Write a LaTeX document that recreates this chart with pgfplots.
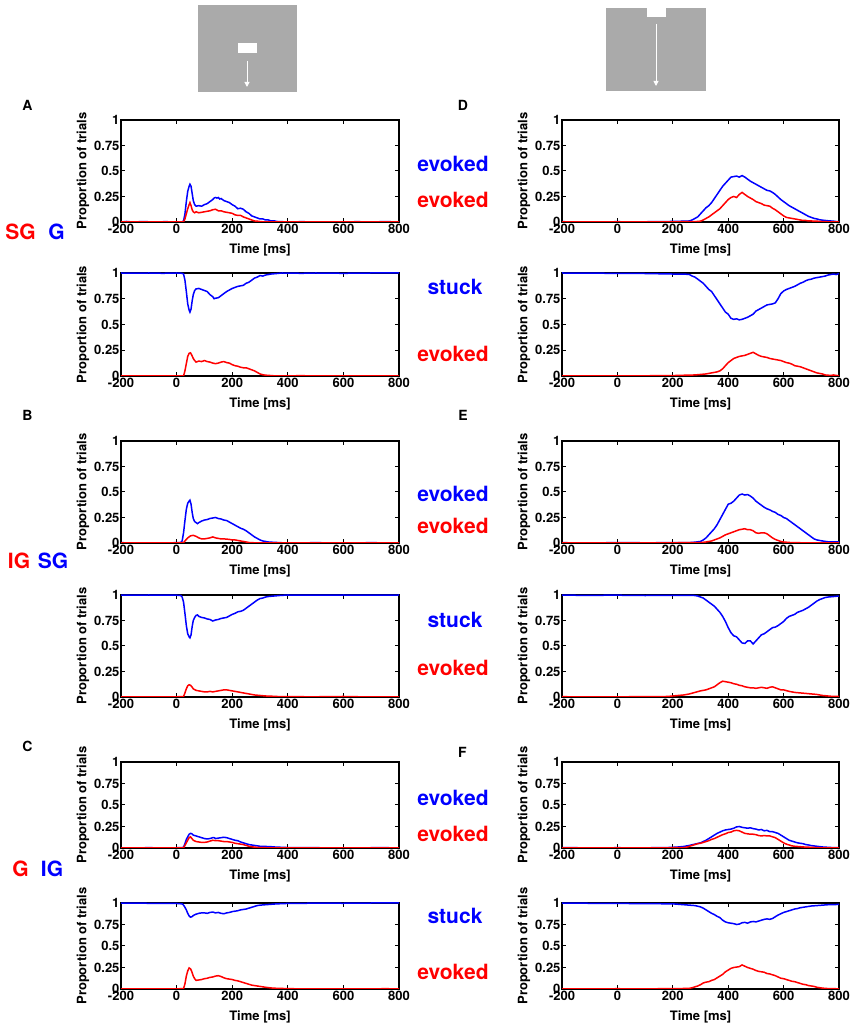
\documentclass[border=0pt]{standalone}
\usepackage{pgfplots}
\pgfplotsset{compat=1.18}
\usepackage{fontspec}
\setmainfont{TeX Gyre Heros}
\usetikzlibrary{arrows.meta}
\newcommand\tf{\bfseries\fontsize{13}{15}\selectfont}
\newcommand\bigf{\bfseries\fontsize{21}{24}\selectfont}
\definecolor{icon}{RGB}{170,170,170}
\pgfplotsset{
 panel/.style={scale only axis, anchor=south west,
  xmin=-200,xmax=800,ymin=0,ymax=1,
  xtick={-200,0,200,400,600,800}, xticklabels={-200,0,200,400,600,800},
  ytick={0,0.25,0.5,0.75,1}, yticklabels={0,0.25,0.5,0.75,1},
  tick align=inside, xtick pos=both, ytick pos=both, major tick length=4pt,
  axis line style={line width=1.3pt}, every tick/.style={black,line width=1pt},
  tick label style={font=\tf},
  xticklabel style={yshift=1.5pt}, yticklabel style={xshift=2pt},
  label style={font=\tf},
  xlabel={Time [ms]}, ylabel={Proportion of trials},
  xlabel style={at={(axis description cs:0.5,0)}, anchor=center, yshift=-28pt},
  ylabel style={at={(axis description cs:-0.137,0.5)}, anchor=center},
 },
 L/.style={panel, width=278pt, at={(121pt,#1)}},
 R/.style={panel, width=277pt, at={(562pt,#1)}},
 bl/.style={color={rgb,255:red,0;green,0;blue,255}, line width=1.5pt},
 rd/.style={color={rgb,255:red,255;green,0;blue,0}, line width=1.5pt},
}
\begin{document}
\begin{tikzpicture}
\useasboundingbox (0pt,0pt) rectangle (856pt,1027pt);
% icons
\fill[icon] (198pt,935pt) rectangle (297pt,1022pt);
\fill[white] (238pt,974pt) rectangle (257pt,984pt);
\draw[white,line width=1pt,-{Triangle[width=5pt,length=5pt]}] (247pt,966pt) -- (247pt,940pt);
\fill[icon] (606pt,936pt) rectangle (706pt,1019pt);
\fill[white] (647pt,1010pt) rectangle (666pt,1020pt);
\draw[white,line width=1pt,-{Triangle[width=5pt,length=5pt]}] (656pt,1003pt) -- (656pt,941pt);
% letters
\node[font=\bfseries\fontsize{14}{16}\selectfont] at (27.5pt,922pt) {A};
\node[font=\bfseries\fontsize{14}{16}\selectfont] at (27.5pt,612pt) {B};
\node[font=\bfseries\fontsize{14}{16}\selectfont] at (27.5pt,281pt) {C};
\node[font=\bfseries\fontsize{14}{16}\selectfont] at (463pt,922pt) {D};
\node[font=\bfseries\fontsize{14}{16}\selectfont] at (463pt,612pt) {E};
\node[font=\bfseries\fontsize{14}{16}\selectfont] at (462.5pt,275pt) {F};
% row labels
\node[font=\bigf, text=red] at (20.5pt,795pt) {SG};
\node[font=\bigf, text=blue] at (56.5pt,795pt) {G};
\node[font=\bigf, text=red] at (19pt,466pt) {IG};
\node[font=\bigf, text=blue] at (53pt,466pt) {SG};
\node[font=\bigf, text=red] at (20.5pt,158pt) {G};
\node[font=\bigf, text=blue] at (52pt,158pt) {IG};
% middle labels
\node[font=\bigf, text=blue] at (453pt,863pt) {evoked};
\node[font=\bigf, text=red] at (453pt,827pt) {evoked};
\node[font=\bigf, text=blue] at (455pt,740pt) {stuck};
\node[font=\bigf, text=red] at (453pt,673pt) {evoked};
\node[font=\bigf, text=blue] at (453pt,533pt) {evoked};
\node[font=\bigf, text=red] at (453pt,501pt) {evoked};
\node[font=\bigf, text=blue] at (455pt,407pt) {stuck};
\node[font=\bigf, text=red] at (453pt,359pt) {evoked};
\node[font=\bigf, text=blue] at (453pt,229pt) {evoked};
\node[font=\bigf, text=red] at (453pt,193pt) {evoked};
\node[font=\bigf, text=blue] at (455pt,111pt) {stuck};
\node[font=\bigf, text=red] at (453pt,55pt) {evoked};

% ---------------- A top
\begin{axis}[L=805pt, height=102pt]
\addplot[bl] coordinates {(-200,0) (-180,0.005) (-160,0) (-120,0.004) (-80,0) (-40,0.003) (0,0) (20,0.002) (25,0.01) (30,0.08) (35,0.2) (40,0.3) (45,0.35) (48,0.37) (52,0.35) (56,0.28) (60,0.21) (65,0.17) (70,0.155) (80,0.16) (90,0.155) (100,0.17) (110,0.18) (120,0.2) (130,0.22) (135,0.235) (140,0.24) (145,0.235) (150,0.24) (155,0.225) (160,0.23) (170,0.21) (180,0.2) (190,0.19) (200,0.17) (210,0.155) (220,0.13) (230,0.135) (240,0.125) (250,0.1) (260,0.085) (270,0.06) (280,0.05) (290,0.04) (300,0.03) (310,0.03) (320,0.02) (330,0.02) (340,0.01) (350,0.012) (360,0.005) (380,0.003) (400,0) (450,0.003) (500,0) (550,0.002) (600,0) (650,0.003) (700,0) (750,0.004) (800,0)};
\addplot[rd] coordinates {(-200,0) (-100,0.002) (0,0) (25,0) (30,0.03) (35,0.08) (40,0.13) (45,0.17) (48,0.19) (52,0.16) (56,0.12) (60,0.1) (65,0.09) (70,0.1) (80,0.09) (90,0.095) (100,0.1) (110,0.105) (120,0.11) (130,0.12) (140,0.125) (150,0.11) (160,0.11) (170,0.1) (180,0.095) (190,0.09) (200,0.085) (210,0.07) (220,0.065) (230,0.065) (240,0.05) (250,0.04) (260,0.03) (270,0.02) (280,0.01) (290,0.008) (300,0.004) (320,0) (400,0.002) (500,0) (600,0.001) (700,0) (800,0)};
\end{axis}
% ---------------- A bottom
\begin{axis}[L=651pt, height=103pt]
\addplot[bl] coordinates {(-200,1) (-150,0.998) (-100,1) (-50,0.997) (0,1) (20,0.997) (25,0.99) (30,0.93) (35,0.82) (40,0.7) (45,0.64) (48,0.62) (52,0.65) (56,0.73) (60,0.79) (65,0.83) (70,0.845) (80,0.85) (90,0.84) (100,0.83) (110,0.82) (120,0.79) (130,0.77) (135,0.75) (140,0.755) (150,0.76) (160,0.78) (170,0.8) (180,0.82) (190,0.835) (200,0.85) (210,0.86) (220,0.87) (230,0.875) (240,0.88) (250,0.9) (260,0.91) (270,0.93) (280,0.95) (290,0.96) (300,0.975) (310,0.97) (320,0.98) (330,0.985) (340,0.99) (360,0.995) (380,1) (450,0.997) (500,1) (600,0.997) (700,1) (800,1)};
\addplot[rd] coordinates {(-200,0) (-100,0.002) (0,0) (25,0) (30,0.05) (35,0.12) (40,0.19) (45,0.22) (50,0.225) (55,0.2) (60,0.17) (65,0.15) (70,0.135) (80,0.145) (90,0.14) (100,0.15) (110,0.14) (120,0.135) (130,0.125) (140,0.12) (150,0.125) (160,0.135) (170,0.14) (180,0.13) (190,0.125) (200,0.11) (210,0.1) (220,0.095) (230,0.085) (240,0.08) (250,0.08) (260,0.07) (270,0.06) (280,0.05) (290,0.035) (300,0.02) (310,0.012) (320,0.008) (340,0.004) (360,0) (450,0.003) (500,0) (600,0.002) (700,0) (800,0)};
\end{axis}
% ---------------- D top
\begin{axis}[R=805pt, height=102pt]
\addplot[bl] coordinates {(-200,0.003) (-150,0) (-100,0.002) (-50,0) (0,0.003) (50,0) (100,0.002) (150,0.004) (200,0.005) (240,0.008) (260,0.01) (270,0.02) (280,0.035) (290,0.05) (300,0.08) (310,0.11) (320,0.14) (330,0.16) (340,0.19) (350,0.23) (360,0.27) (370,0.31) (380,0.35) (390,0.38) (400,0.41) (410,0.44) (420,0.445) (430,0.45) (440,0.44) (450,0.455) (460,0.44) (470,0.42) (480,0.4) (490,0.385) (500,0.37) (510,0.355) (520,0.34) (530,0.325) (540,0.31) (550,0.305) (560,0.29) (570,0.27) (580,0.245) (590,0.22) (600,0.2) (610,0.18) (620,0.16) (630,0.145) (640,0.13) (650,0.115) (660,0.1) (670,0.085) (680,0.07) (690,0.055) (700,0.045) (710,0.035) (720,0.03) (730,0.022) (740,0.018) (750,0.015) (760,0.012) (770,0.01) (780,0.008) (790,0.004) (800,0.002)};
\addplot[rd] coordinates {(-200,0) (0,0.001) (100,0) (200,0.002) (280,0.003) (300,0.008) (310,0.02) (320,0.035) (330,0.05) (340,0.07) (350,0.09) (360,0.11) (370,0.13) (380,0.16) (390,0.19) (400,0.22) (410,0.24) (420,0.25) (430,0.24) (440,0.27) (450,0.29) (460,0.27) (470,0.25) (480,0.235) (490,0.22) (500,0.2) (510,0.19) (520,0.18) (530,0.165) (540,0.16) (550,0.155) (560,0.135) (570,0.12) (580,0.1) (590,0.08) (600,0.06) (610,0.045) (620,0.04) (630,0.035) (640,0.03) (650,0.025) (660,0.02) (670,0.015) (680,0.015) (690,0.01) (700,0.01) (720,0.008) (740,0.004) (760,0.002) (780,0) (800,0)};
\end{axis}
% ---------------- D bottom
\begin{axis}[R=651pt, height=103pt]
\addplot[bl] coordinates {(-200,1) (-100,0.998) (0,0.997) (100,0.995) (200,0.99) (240,0.99) (260,0.985) (270,0.97) (280,0.96) (290,0.94) (300,0.92) (310,0.9) (320,0.87) (330,0.84) (340,0.82) (350,0.78) (360,0.74) (370,0.7) (380,0.66) (390,0.62) (400,0.6) (410,0.56) (420,0.55) (430,0.555) (440,0.545) (450,0.55) (460,0.56) (470,0.57) (480,0.585) (490,0.6) (500,0.63) (510,0.645) (520,0.66) (530,0.675) (540,0.69) (550,0.695) (560,0.7) (570,0.71) (580,0.75) (590,0.8) (600,0.825) (610,0.84) (620,0.85) (630,0.86) (640,0.87) (650,0.885) (660,0.9) (670,0.91) (680,0.925) (690,0.935) (700,0.94) (710,0.95) (720,0.955) (730,0.96) (740,0.965) (750,0.97) (760,0.98) (770,0.985) (780,0.99) (790,0.985) (800,0.995)};
\addplot[rd] coordinates {(-200,0) (-100,0.002) (0,0) (100,0.002) (200,0.004) (250,0.008) (280,0.01) (300,0.015) (320,0.02) (340,0.03) (360,0.04) (370,0.05) (380,0.07) (390,0.1) (400,0.13) (410,0.15) (420,0.17) (430,0.18) (440,0.19) (450,0.195) (460,0.2) (470,0.21) (480,0.22) (490,0.23) (500,0.215) (510,0.2) (520,0.19) (530,0.185) (540,0.18) (550,0.17) (560,0.165) (570,0.16) (580,0.155) (590,0.15) (600,0.14) (610,0.13) (620,0.125) (630,0.115) (640,0.1) (650,0.095) (660,0.09) (670,0.08) (680,0.07) (690,0.06) (700,0.05) (710,0.04) (720,0.03) (730,0.025) (740,0.02) (750,0.01) (760,0.008) (770,0.005) (780,0.01) (790,0.005) (800,0.003)};
\end{axis}
% ---------------- B top
\begin{axis}[L=484pt, height=102pt]
\addplot[bl] coordinates {(-200,0.003) (-150,0) (-100,0.002) (-50,0) (0,0.003) (15,0.005) (20,0.02) (25,0.1) (30,0.22) (35,0.33) (40,0.39) (45,0.41) (48,0.42) (52,0.38) (56,0.3) (60,0.24) (65,0.21) (70,0.2) (75,0.19) (80,0.2) (90,0.215) (100,0.225) (110,0.23) (120,0.24) (130,0.245) (140,0.25) (150,0.24) (160,0.235) (170,0.225) (180,0.22) (190,0.205) (200,0.19) (210,0.175) (220,0.16) (230,0.145) (240,0.135) (250,0.12) (260,0.1) (270,0.08) (280,0.06) (290,0.045) (300,0.03) (310,0.02) (320,0.015) (330,0.01) (340,0.008) (360,0.005) (380,0.002) (400,0) (500,0.003) (600,0) (700,0.003) (800,0)};
\addplot[rd] coordinates {(-200,0) (0,0.002) (25,0.003) (30,0.02) (40,0.05) (50,0.07) (60,0.075) (70,0.065) (80,0.05) (90,0.04) (100,0.04) (110,0.045) (120,0.05) (130,0.06) (140,0.05) (150,0.045) (160,0.04) (170,0.04) (180,0.038) (190,0.035) (200,0.03) (210,0.03) (220,0.025) (230,0.02) (240,0.015) (250,0.01) (260,0.005) (280,0.002) (300,0) (400,0.001) (600,0) (800,0)};
\end{axis}
% ---------------- B bottom
\begin{axis}[L=330pt, height=102pt]
\addplot[bl] coordinates {(-200,0.998) (-100,1) (0,0.998) (15,0.995) (20,0.98) (25,0.93) (30,0.82) (35,0.7) (40,0.62) (45,0.59) (48,0.58) (52,0.61) (56,0.69) (60,0.75) (65,0.78) (70,0.8) (75,0.805) (80,0.79) (90,0.78) (100,0.775) (110,0.765) (120,0.76) (130,0.745) (140,0.755) (150,0.76) (160,0.77) (170,0.775) (180,0.78) (190,0.795) (200,0.81) (210,0.82) (220,0.835) (230,0.84) (240,0.85) (250,0.87) (260,0.89) (270,0.91) (280,0.93) (290,0.95) (300,0.965) (310,0.97) (320,0.98) (330,0.985) (350,0.99) (370,0.995) (400,1) (500,0.998) (600,1) (700,0.998) (800,1)};
\addplot[rd] coordinates {(-200,0) (-100,0.002) (0,0.002) (25,0.005) (30,0.04) (35,0.08) (40,0.11) (45,0.12) (50,0.115) (55,0.1) (60,0.08) (70,0.065) (80,0.06) (90,0.055) (100,0.05) (110,0.05) (120,0.055) (130,0.05) (140,0.055) (150,0.06) (160,0.065) (170,0.07) (180,0.07) (190,0.065) (200,0.06) (210,0.055) (220,0.05) (230,0.045) (240,0.04) (250,0.035) (260,0.03) (270,0.025) (280,0.02) (300,0.015) (320,0.01) (340,0.008) (360,0.005) (400,0.003) (500,0.002) (600,0.005) (700,0) (800,0)};
\end{axis}
% ---------------- E top
\begin{axis}[R=484pt, height=102pt]
\addplot[bl] coordinates {(-200,0.003) (-100,0) (0,0.004) (100,0.002) (200,0.003) (260,0.004) (280,0.008) (300,0.015) (310,0.03) (320,0.05) (330,0.08) (340,0.11) (350,0.14) (360,0.18) (370,0.23) (380,0.28) (390,0.33) (400,0.38) (410,0.39) (420,0.41) (430,0.44) (440,0.47) (450,0.48) (460,0.47) (470,0.475) (480,0.46) (490,0.44) (500,0.41) (510,0.39) (520,0.37) (530,0.35) (540,0.335) (550,0.325) (560,0.31) (570,0.3) (580,0.28) (590,0.27) (600,0.25) (610,0.24) (620,0.22) (630,0.2) (640,0.18) (650,0.16) (660,0.14) (670,0.12) (680,0.1) (690,0.08) (700,0.06) (710,0.04) (720,0.03) (740,0.02) (760,0.012) (780,0.01) (800,0.01)};
\addplot[rd] coordinates {(-200,0) (0,0.002) (200,0.002) (300,0.004) (320,0.01) (340,0.02) (360,0.04) (370,0.05) (380,0.065) (390,0.08) (400,0.09) (410,0.1) (420,0.11) (430,0.12) (440,0.13) (450,0.135) (460,0.14) (470,0.13) (480,0.13) (490,0.12) (500,0.1) (510,0.095) (520,0.1) (530,0.1) (540,0.09) (550,0.07) (560,0.05) (570,0.035) (580,0.025) (590,0.015) (600,0.01) (620,0.005) (650,0.003) (700,0) (800,0)};
\end{axis}
% ---------------- E bottom
\begin{axis}[R=330pt, height=102pt]
\addplot[bl] coordinates {(-200,0.998) (-100,0.997) (0,0.998) (100,0.995) (200,0.997) (280,0.995) (290,0.99) (300,0.98) (310,0.97) (320,0.95) (330,0.93) (340,0.91) (350,0.89) (360,0.86) (370,0.83) (380,0.79) (390,0.74) (400,0.68) (410,0.63) (420,0.6) (430,0.59) (440,0.56) (450,0.53) (460,0.525) (470,0.55) (480,0.55) (490,0.52) (500,0.55) (510,0.58) (520,0.61) (530,0.62) (540,0.64) (550,0.66) (560,0.68) (570,0.685) (580,0.7) (590,0.72) (600,0.74) (610,0.77) (620,0.79) (630,0.8) (640,0.81) (650,0.83) (660,0.84) (670,0.85) (680,0.865) (690,0.88) (700,0.9) (710,0.92) (720,0.94) (730,0.955) (740,0.965) (750,0.975) (760,0.98) (780,0.985) (800,0.99)};
\addplot[rd] coordinates {(-200,0.003) (-100,0) (0,0.002) (100,0.003) (180,0.005) (200,0.01) (220,0.015) (240,0.02) (260,0.03) (280,0.045) (300,0.06) (320,0.07) (330,0.08) (340,0.09) (350,0.1) (360,0.12) (370,0.14) (380,0.155) (390,0.15) (400,0.145) (410,0.14) (420,0.13) (430,0.125) (440,0.115) (450,0.11) (460,0.1) (470,0.095) (480,0.09) (490,0.09) (500,0.085) (510,0.09) (520,0.095) (530,0.09) (540,0.085) (550,0.095) (560,0.1) (570,0.09) (580,0.08) (590,0.07) (600,0.07) (620,0.055) (640,0.045) (660,0.04) (680,0.035) (700,0.03) (720,0.025) (740,0.015) (760,0.01) (780,0.005) (800,0.005)};
\end{axis}
% ---------------- C top
\begin{axis}[L=179pt, height=86pt]
\addplot[bl] coordinates {(-200,0.003) (-150,0) (-100,0.004) (-50,0) (0,0.003) (20,0.005) (25,0.01) (30,0.05) (35,0.1) (40,0.13) (45,0.16) (50,0.17) (55,0.165) (60,0.15) (70,0.14) (80,0.13) (90,0.12) (100,0.11) (110,0.105) (120,0.11) (130,0.12) (135,0.12) (140,0.11) (150,0.115) (160,0.12) (170,0.125) (180,0.12) (190,0.11) (200,0.1) (210,0.09) (220,0.085) (230,0.07) (240,0.06) (250,0.05) (260,0.04) (270,0.035) (280,0.03) (290,0.025) (300,0.02) (320,0.018) (340,0.015) (360,0.01) (380,0.008) (400,0.005) (450,0.003) (500,0.004) (550,0) (600,0.003) (650,0) (700,0.003) (750,0.004) (800,0)};
\addplot[rd] coordinates {(-200,0) (0,0.002) (25,0.003) (30,0.03) (35,0.06) (40,0.09) (45,0.12) (50,0.13) (55,0.11) (60,0.09) (70,0.075) (80,0.07) (90,0.065) (100,0.065) (110,0.07) (120,0.08) (130,0.09) (140,0.085) (150,0.085) (160,0.08) (170,0.075) (180,0.075) (190,0.07) (200,0.065) (210,0.055) (220,0.05) (230,0.045) (240,0.04) (250,0.03) (260,0.02) (270,0.015) (280,0.01) (300,0.005) (320,0.003) (350,0) (500,0.002) (800,0)};
\end{axis}
% ---------------- C bottom
\begin{axis}[L=38pt, height=86pt]
\addplot[bl] coordinates {(-200,0.998) (-100,0.997) (0,0.995) (20,0.99) (25,0.975) (30,0.95) (35,0.92) (40,0.88) (45,0.85) (50,0.835) (55,0.84) (60,0.855) (70,0.87) (80,0.88) (90,0.885) (100,0.885) (110,0.88) (120,0.89) (130,0.895) (140,0.885) (150,0.89) (160,0.88) (170,0.875) (180,0.885) (190,0.89) (200,0.9) (210,0.905) (220,0.91) (230,0.92) (240,0.925) (250,0.93) (260,0.94) (270,0.95) (280,0.96) (290,0.97) (300,0.975) (320,0.98) (340,0.985) (360,0.99) (400,0.995) (500,0.998) (600,0.997) (700,1) (800,1)};
\addplot[rd] coordinates {(-200,0) (-100,0.002) (0,0.002) (25,0.004) (30,0.06) (35,0.15) (40,0.21) (45,0.245) (50,0.235) (55,0.2) (60,0.15) (65,0.12) (70,0.1) (80,0.105) (90,0.11) (100,0.12) (110,0.125) (120,0.135) (130,0.14) (140,0.15) (150,0.155) (160,0.145) (170,0.13) (180,0.12) (190,0.115) (200,0.11) (210,0.1) (220,0.095) (230,0.085) (240,0.075) (250,0.065) (260,0.055) (270,0.045) (280,0.04) (290,0.035) (300,0.03) (310,0.025) (320,0.02) (340,0.012) (360,0.008) (380,0.006) (400,0.005) (420,0.003) (450,0.002) (500,0) (600,0.001) (700,0) (750,0.004) (800,0)};
\end{axis}
% ---------------- F top
\begin{axis}[R=179pt, height=86pt]
\addplot[bl] coordinates {(-200,0.004) (-100,0.002) (0,0.003) (100,0.002) (150,0.004) (180,0.005) (200,0.008) (220,0.012) (240,0.018) (260,0.03) (280,0.045) (300,0.06) (310,0.075) (320,0.09) (330,0.11) (340,0.13) (350,0.15) (360,0.17) (370,0.185) (380,0.2) (390,0.21) (400,0.215) (410,0.22) (420,0.23) (430,0.245) (440,0.25) (450,0.24) (460,0.235) (470,0.23) (480,0.235) (490,0.225) (500,0.22) (510,0.21) (520,0.215) (530,0.2) (540,0.205) (550,0.19) (560,0.19) (570,0.18) (580,0.17) (590,0.15) (600,0.13) (610,0.11) (620,0.09) (630,0.08) (640,0.07) (650,0.06) (660,0.055) (670,0.05) (680,0.04) (690,0.035) (700,0.028) (720,0.02) (740,0.012) (760,0.008) (780,0.004) (800,0.003)};
\addplot[rd] coordinates {(-200,0) (0,0.002) (100,0) (200,0.003) (240,0.005) (250,0.01) (260,0.02) (270,0.03) (280,0.04) (290,0.05) (300,0.055) (310,0.065) (320,0.075) (330,0.085) (340,0.1) (350,0.11) (360,0.125) (370,0.14) (380,0.155) (390,0.165) (400,0.18) (410,0.185) (420,0.2) (430,0.205) (440,0.2) (450,0.185) (460,0.17) (470,0.165) (480,0.16) (490,0.16) (500,0.155) (510,0.145) (520,0.14) (530,0.145) (540,0.14) (550,0.14) (560,0.13) (570,0.12) (580,0.1) (590,0.08) (600,0.06) (610,0.045) (620,0.035) (630,0.025) (640,0.02) (660,0.015) (680,0.01) (700,0.008) (720,0.004) (750,0) (800,0)};
\end{axis}
% ---------------- F bottom
\begin{axis}[R=38pt, height=86pt]
\addplot[bl] coordinates {(-200,0.998) (-100,0.997) (0,0.995) (100,0.993) (200,0.99) (220,0.985) (240,0.98) (260,0.975) (280,0.97) (300,0.955) (310,0.94) (320,0.92) (330,0.9) (340,0.88) (350,0.865) (360,0.845) (370,0.83) (380,0.8) (390,0.78) (400,0.77) (410,0.765) (420,0.76) (430,0.75) (440,0.755) (450,0.77) (460,0.775) (470,0.765) (480,0.78) (490,0.785) (500,0.78) (510,0.79) (520,0.8) (530,0.81) (540,0.815) (550,0.81) (560,0.82) (570,0.84) (580,0.86) (590,0.875) (600,0.89) (610,0.9) (620,0.91) (630,0.92) (640,0.93) (650,0.935) (660,0.945) (670,0.95) (680,0.955) (690,0.96) (700,0.965) (720,0.97) (740,0.975) (760,0.98) (780,0.98) (800,0.985)};
\addplot[rd] coordinates {(-200,0) (-100,0.002) (0,0.003) (100,0.002) (200,0.004) (240,0.006) (260,0.008) (270,0.015) (280,0.025) (290,0.035) (300,0.05) (310,0.07) (320,0.08) (330,0.085) (340,0.1) (350,0.11) (360,0.13) (370,0.15) (380,0.17) (390,0.2) (400,0.22) (410,0.24) (420,0.25) (430,0.255) (440,0.26) (450,0.28) (460,0.265) (470,0.25) (480,0.24) (490,0.23) (500,0.215) (510,0.205) (520,0.2) (530,0.195) (540,0.18) (550,0.175) (560,0.165) (570,0.155) (580,0.14) (590,0.125) (600,0.12) (610,0.11) (620,0.1) (630,0.09) (640,0.085) (650,0.075) (660,0.065) (670,0.055) (680,0.05) (690,0.04) (700,0.035) (710,0.03) (720,0.02) (740,0.01) (760,0.005) (780,0.005) (800,0)};
\end{axis}
\end{tikzpicture}
\end{document}
